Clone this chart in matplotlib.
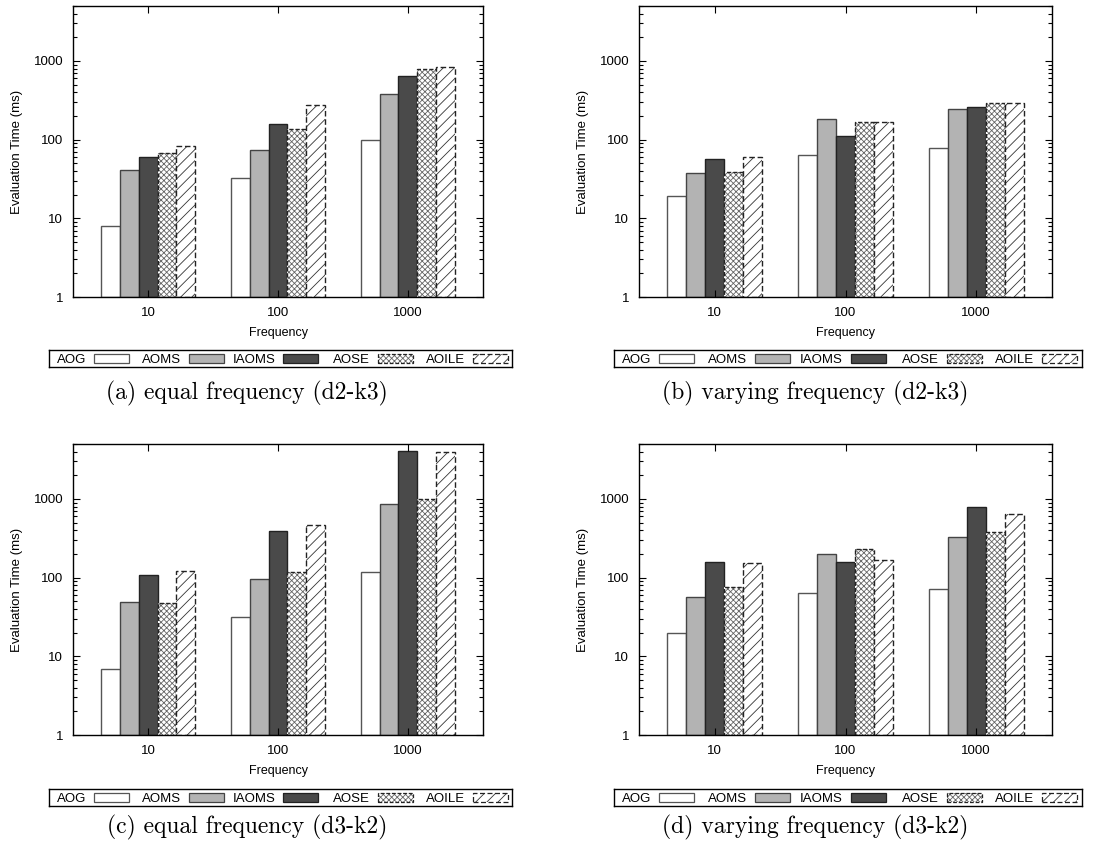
import numpy as np
import matplotlib.pyplot as plt
from matplotlib.patches import Rectangle
from matplotlib.ticker import FixedLocator, FuncFormatter, LogLocator, NullFormatter

plt.rcParams['font.family'] = ['Liberation Sans', 'DejaVu Sans']
plt.rcParams['hatch.linewidth'] = 0.6

freqs = ['10', '100', '1000']
methods = ['AOG', 'AOMS', 'IAOMS', 'AOSE', 'AOILE']

# evaluation time (ms), one list per method, values for freq 10 / 100 / 1000
a_AOG, a_AOMS, a_IAOMS, a_AOSE, a_AOILE = [8, 33, 99], [41, 73, 384], [60, 156, 650], [68, 136, 783], [82, 272, 831]
b_AOG, b_AOMS, b_IAOMS, b_AOSE, b_AOILE = [19, 63, 79], [38, 181, 242], [57, 111, 257], [39, 169, 289], [61, 167, 289]
c_AOG, c_AOMS, c_IAOMS, c_AOSE, c_AOILE = [7, 32, 119], [49, 97, 872], [108, 387, 4060], [47, 117, 1010], [122, 470, 3900]
d_AOG, d_AOMS, d_IAOMS, d_AOSE, d_AOILE = [20, 64, 71], [57, 197, 330], [160, 158, 790], [76, 232, 383], [152, 168, 637]

captions = ['(a) equal frequency (d2-k3)', '(b) varying frequency (d2-k3)',
            '(c) equal frequency (d3-k2)', '(d) varying frequency (d3-k2)']

# face, hatch, hatch colour, edge colour, edge style
styles = [
    ('white', None, '#555555', '#555555', 'solid'),
    ('#b3b3b3', None, '#444444', '#444444', 'solid'),
    ('#4a4a4a', None, '#222222', '#222222', 'solid'),
    ('white', 'xxxxxx', '#666666', '#222222', (0, (3, 1.5))),
    ('white', '///', '#333333', '#222222', (0, (4, 2))),
]

W, H = 1115, 852
fig = plt.figure(figsize=(W / 100, H / 100), dpi=100)

def fx(px):
    return px / W

def fy(px):
    return 1 - px / H

# boxes in pixels: left, top, right, bottom
boxes = [(73, 6, 483, 297), (639, 6, 1052, 297), (73, 444, 483, 735), (639, 444, 1052, 735)]
legend_boxes = [(49, 350, 512, 367), (614, 350, 1082, 367), (49, 789, 512, 806), (614, 789, 1082, 806)]
caption_pos = [(247, 393), (815, 393), (247, 827), (815, 827)]

data = [
    [a_AOG, a_AOMS, a_IAOMS, a_AOSE, a_AOILE],
    [b_AOG, b_AOMS, b_IAOMS, b_AOSE, b_AOILE],
    [c_AOG, c_AOMS, c_IAOMS, c_AOSE, c_AOILE],
    [d_AOG, d_AOMS, d_IAOMS, d_AOSE, d_AOILE],
]

bw = 0.145
x = np.arange(len(freqs))

for k in range(4):
    l, t, r, b = boxes[k]
    ax = fig.add_axes([fx(l), fy(b), fx(r - l), (b - t) / H])
    ax.set_yscale('log')
    for i, vals in enumerate(data[k]):
        face, hatch, hcol, ecol, ls = styles[i]
        pos = x + (i - 2) * bw
        h = np.array(vals, dtype=float) - 1
        ax.bar(pos, h, bw, bottom=1, color=face, edgecolor=hcol, hatch=hatch, linewidth=0)
        ax.bar(pos, h, bw, bottom=1, fill=False, edgecolor=ecol, linewidth=1.0, linestyle=ls)
    ax.set_xlim(-0.58, 2.58)
    ax.set_ylim(1, 5000)
    ax.set_xticks(x)
    ax.set_xticklabels(freqs)
    ax.yaxis.set_major_locator(FixedLocator([1, 10, 100, 1000]))
    ax.yaxis.set_major_formatter(FuncFormatter(lambda v, p: '%d' % v))
    ax.yaxis.set_minor_locator(LogLocator(base=10, subs=np.arange(2, 10)))
    ax.yaxis.set_minor_formatter(NullFormatter())
    ax.tick_params(which='both', direction='in', top=True, right=True, labelsize=9.5, pad=7, width=0.8)
    ax.tick_params(which='major', length=5)
    ax.tick_params(which='minor', length=3)
    ax.set_xlabel('Frequency', fontsize=9, labelpad=6)
    ax.set_ylabel('Evaluation Time (ms)', fontsize=9.5, labelpad=7.5)
    for s in ax.spines.values():
        s.set_linewidth(1.0)

    # key box below each panel, gnuplot style: label then sample
    ll, lt, lr, lb = legend_boxes[k]
    lax = fig.add_axes([fx(ll), fy(lb), fx(lr - ll), (lb - lt) / H])
    lax.set_xticks([])
    lax.set_yticks([])
    for s in lax.spines.values():
        s.set_linewidth(1.0)
    sw = 35 / (lr - ll)
    for i, name in enumerate(methods):
        face, hatch, hcol, ecol, ls = styles[i]
        x0 = 0.097 + 0.2045 * i
        lax.add_patch(Rectangle((x0, 0.25), sw, 0.5, transform=lax.transAxes,
                                facecolor=face, edgecolor=hcol, hatch=hatch, linewidth=0))
        lax.add_patch(Rectangle((x0, 0.25), sw, 0.5, transform=lax.transAxes,
                                fill=False, edgecolor=ecol, linewidth=0.9, linestyle=ls))
        lax.text(x0 - 8 / (lr - ll), 0.5, name, transform=lax.transAxes,
                 ha='right', va='center_baseline', fontsize=9.5)

    cx, cy = caption_pos[k]
    fig.text(fx(cx), fy(cy), captions[k], ha='center', va='center', fontsize=17, family='cmr10')

fig.savefig('out.png', dpi=100)
